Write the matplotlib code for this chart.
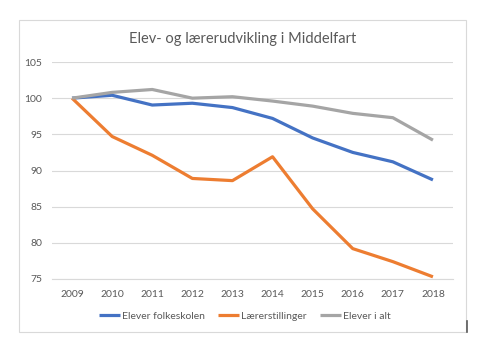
import matplotlib
matplotlib.use("Agg")
import matplotlib.pyplot as plt
from matplotlib.patches import Rectangle
from matplotlib.lines import Line2D

plt.rcParams['font.family'] = ['Lato', 'DejaVu Sans']

years = ["2009", "2010", "2011", "2012", "2013", "2014", "2015", "2016", "2017", "2018"]
elever_folkeskolen = [100, 100.4, 99.05, 99.3, 98.7, 97.2, 94.5, 92.5, 91.2, 88.7]
laererstillinger = [100, 94.7, 92.1, 88.9, 88.6, 91.9, 84.7, 79.2, 77.4, 75.3]
elever_i_alt = [100, 100.8, 101.2, 100.0, 100.2, 99.6, 98.9, 97.9, 97.3, 94.2]

series = [
    ("Elever folkeskolen", elever_folkeskolen, "#4472C4"),
    ("Lærerstillinger", laererstillinger, "#ED7D31"),
    ("Elever i alt", elever_i_alt, "#A5A5A5"),
]

fig = plt.figure(figsize=(5.0, 3.59), dpi=100)
## chart border like excel
fig.patches.append(Rectangle((19/500, 1-332/359), 447/500, 312/359, transform=fig.transFigure,
                             fill=False, edgecolor="#D9D9D9", linewidth=0.8))
## little dark mark at the lower right corner of the frame
fig.lines.append(Line2D([467/500, 467/500], [1-321/359, 1-332/359], transform=fig.transFigure,
                        color="#595959", linewidth=1.2))

ax = fig.add_axes([52/500, 1-279/359, 401/500, 217/359])
x = list(range(len(years)))
handles = []
for name, vals, col in series:
    h, = ax.plot(x, vals, color=col, linewidth=2.3, label=name, solid_capstyle="butt")
    handles.append(h)

ax.set_xlim(-0.5, len(years) - 0.5)
ax.set_ylim(75, 105)
ax.set_yticks([75, 80, 85, 90, 95, 100, 105])
ax.set_xticks(x)
ax.set_xticklabels(years)
ax.grid(axis="y", color="#D9D9D9", linewidth=0.8)
ax.set_axisbelow(True)
for s in ["top", "right", "left"]:
    ax.spines[s].set_visible(False)
ax.spines["bottom"].set_color("#D9D9D9")
ax.tick_params(length=0, labelsize=7.5, labelcolor="#595959", pad=8)
ax.tick_params(axis="y", pad=7)

fig.text(243/500, 1-39/359, "Elev- og lærerudvikling i Middelfart", ha="center", va="center",
         fontsize=10.5, color="#595959")

fig.legend(handles, [s[0] for s in series], loc="center", bbox_to_anchor=(245/500, 1-316/359),
           ncol=3, frameon=False, fontsize=7.5, handlelength=2.0, handletextpad=0.2,
           columnspacing=1.3, labelcolor="#595959")

fig.savefig("out.png", dpi=100)
